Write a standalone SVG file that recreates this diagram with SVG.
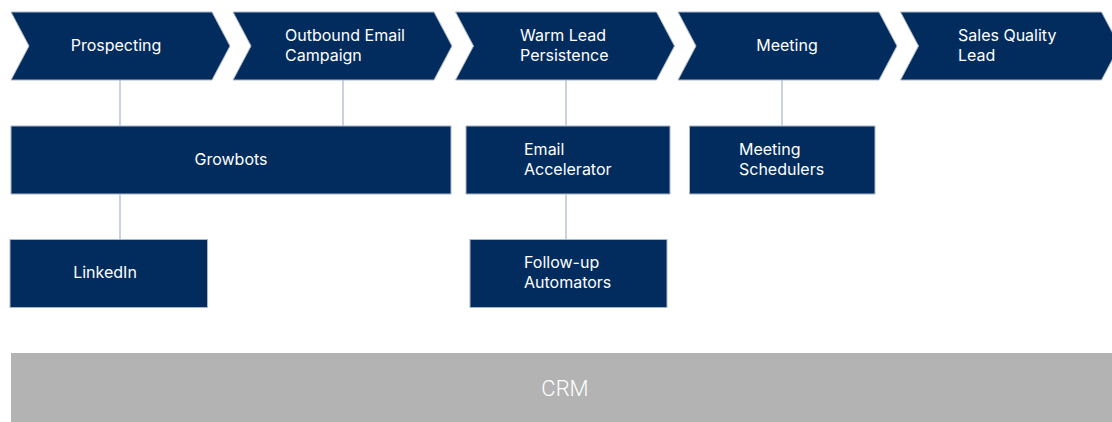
<svg xmlns="http://www.w3.org/2000/svg" width="1112" height="422" viewBox="0 0 1112 422">
  <style>
    .stage { fill: #022c5e; stroke: #aab6c8; stroke-width: 1; }
    .tool { fill: #022c5e; stroke: #aab6c8; stroke-width: 1; }
    .lbl { font-family: Inter, "Liberation Sans", sans-serif; font-size: 16px; fill: #ffffff; }
    .mid { text-anchor: middle; }
    .link { stroke: #a9b5c7; stroke-width: 1.2; fill: none; }
    .crm { fill: #b3b3b3; }
    .crmlbl { font-family: Roboto, "Liberation Sans", sans-serif; font-weight: 300; font-size: 22px; fill: #ffffff; text-anchor: middle; }
  </style>
  <defs>
    <!-- one chevron stage, origin at its top-left corner -->
    <path id="chev" d="M0,0 H201 L219,34 L201,68 H0 L18,34 Z"/>
  </defs>

  <rect width="1112" height="422" fill="#ffffff"/>

  <!-- connectors -->
  <g id="connectors">
    <line class="link" x1="120" y1="80" x2="120" y2="126"/>
    <line class="link" x1="343" y1="80" x2="343" y2="126"/>
    <line class="link" x1="120" y1="194" x2="120" y2="239"/>
    <line class="link" x1="566" y1="80" x2="566" y2="126"/>
    <line class="link" x1="566" y1="194" x2="566" y2="239"/>
    <line class="link" x1="782" y1="80" x2="782" y2="126"/>
  </g>

  <!-- process stages -->
  <g id="prospecting">
    <use href="#chev" class="stage" x="11" y="12"/>
    <text class="lbl mid" x="116" y="51">Prospecting</text>
  </g>
  <g id="outbound-email">
    <use href="#chev" class="stage" x="233" y="12"/>
    <text class="lbl" x="285" y="41">Outbound Email</text>
    <text class="lbl" x="285" y="61">Campaign</text>
  </g>
  <g id="warm-lead">
    <use href="#chev" class="stage" x="455.5" y="12"/>
    <text class="lbl" x="520" y="41">Warm Lead</text>
    <text class="lbl" x="520" y="61">Persistence</text>
  </g>
  <g id="meeting">
    <use href="#chev" class="stage" x="678" y="12"/>
    <text class="lbl mid" x="787" y="51">Meeting</text>
  </g>
  <g id="sales-quality-lead">
    <use href="#chev" class="stage" x="900.5" y="12"/>
    <text class="lbl" x="958" y="41">Sales Quality</text>
    <text class="lbl" x="958" y="61">Lead</text>
  </g>

  <!-- tools -->
  <g id="growbots">
    <rect class="tool" x="11" y="126" width="440" height="68"/>
    <text class="lbl mid" x="231" y="165">Growbots</text>
  </g>
  <g id="linkedin">
    <rect class="tool" x="10" y="239.5" width="197.5" height="68"/>
    <text class="lbl mid" x="105" y="278">LinkedIn</text>
  </g>
  <g id="email-accelerator">
    <rect class="tool" x="466" y="126" width="204" height="68"/>
    <text class="lbl" x="524" y="155">Email</text>
    <text class="lbl" x="524" y="175">Accelerator</text>
  </g>
  <g id="follow-up-automators">
    <rect class="tool" x="470" y="239.5" width="197" height="68"/>
    <text class="lbl" x="524" y="268">Follow-up</text>
    <text class="lbl" x="524" y="288">Automators</text>
  </g>
  <g id="meeting-schedulers">
    <rect class="tool" x="689.5" y="126" width="185.5" height="68"/>
    <text class="lbl" x="739" y="155">Meeting</text>
    <text class="lbl" x="739" y="175">Schedulers</text>
  </g>

  <!-- CRM base layer -->
  <g id="crm">
    <rect class="crm" x="11" y="353" width="1101" height="69"/>
    <text class="crmlbl" x="565" y="396">CRM</text>
  </g>
</svg>
